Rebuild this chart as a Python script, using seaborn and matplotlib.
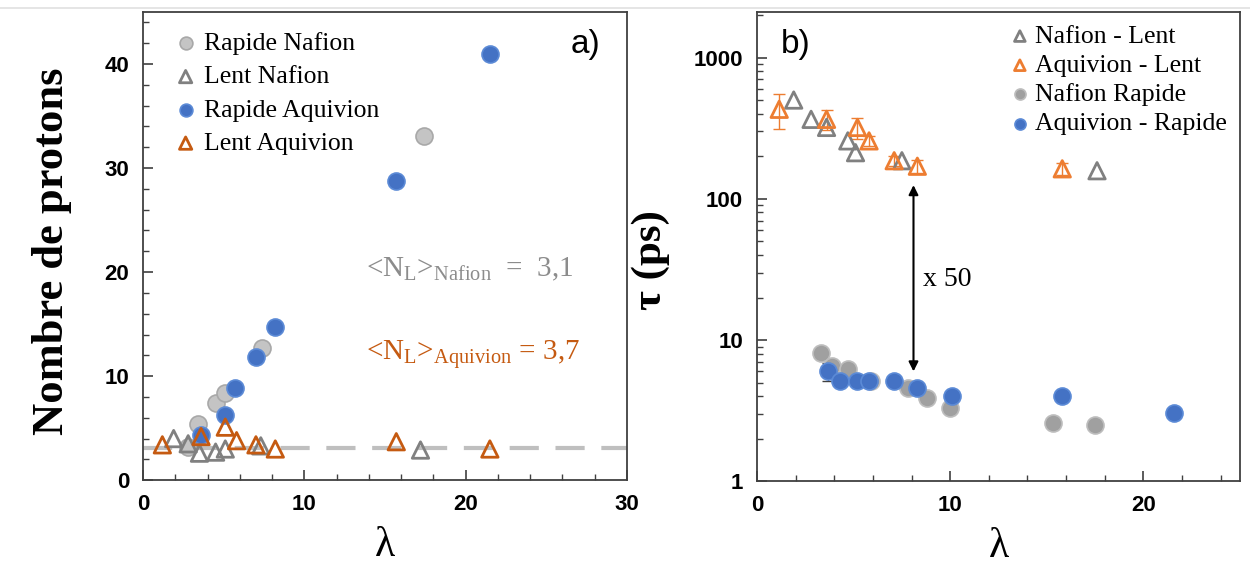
import matplotlib
matplotlib.use('Agg')
import matplotlib.pyplot as plt
from matplotlib.ticker import MultipleLocator, LogLocator, NullFormatter, FixedLocator
from matplotlib.lines import Line2D
from matplotlib.font_manager import FontProperties
import seaborn as sns
import numpy as np

sns.set_theme(style='ticks')
plt.rcParams['font.family'] = ['Liberation Serif', 'DejaVu Serif']
plt.rcParams['mathtext.fontset'] = 'custom'
plt.rcParams['mathtext.rm'] = 'Liberation Serif'
plt.rcParams['text.color'] = 'black'
plt.rcParams['axes.labelcolor'] = 'black'

# --- a) nombre de protons vs lambda ---
lam_rap_naf = [2.8, 3.4, 4.5, 5.1, 7.4, 17.4]
n_rap_naf = [3.2, 5.4, 7.4, 8.4, 12.7, 33.1]

lam_lent_naf = [1.9, 2.8, 3.5, 4.5, 5.1, 7.3, 17.2]
n_lent_naf = [4.0, 3.5, 2.6, 2.7, 3.0, 3.3, 2.9]

lam_rap_aq = [3.6, 5.1, 5.7, 7.0, 8.2, 15.7, 21.5]
n_rap_aq = [4.3, 6.3, 8.9, 11.8, 14.7, 28.8, 41.0]

lam_lent_aq = [1.2, 3.6, 5.1, 5.8, 7.0, 8.2, 15.7, 21.5]
n_lent_aq = [3.4, 4.2, 5.1, 3.8, 3.4, 3.0, 3.7, 3.0]

nl_moyen = 3.1

# --- b) tau vs lambda ---
lam_naf_lent = [1.9, 2.8, 3.6, 4.7, 5.1, 7.5, 17.6]
tau_naf_lent = [500, 365, 320, 257, 212, 186, 158]

lam_aq_lent = [1.15, 3.6, 5.2, 5.8, 7.1, 8.3, 15.8]
tau_aq_lent = [430, 365, 320, 257, 186, 170, 163]
err_aq_lent = [120, 60, 55, 20, 15, 18, 15]

lam_naf_rap = [3.3, 3.9, 4.7, 5.9, 7.8, 8.8, 10.0, 15.3, 17.5]
tau_naf_rap = [8.1, 6.6, 6.2, 5.1, 4.6, 3.9, 3.3, 2.6, 2.5]

lam_aq_rap = [3.7, 4.3, 5.2, 5.8, 7.1, 8.3, 10.1, 15.8, 21.6]
tau_aq_rap = [6.0, 5.1, 5.1, 5.1, 5.1, 4.6, 4.0, 4.0, 3.05]
err_aq_rap = [0.9, 0, 0, 0, 0, 0, 0, 0, 0]

gris_clair = '#c4c4c4'
gris = '#808080'
bleu = '#4472c4'
orange_a = '#c55a11'
orange_b = '#ed7d31'

tick_font = FontProperties(family='Liberation Sans', weight='bold', size=16)

fig = plt.figure(figsize=(12.5, 5.71), dpi=100)
ax1 = fig.add_axes([0.1144, 0.159, 0.3872, 0.820])
ax2 = fig.add_axes([0.6056, 0.157, 0.3864, 0.822])

# ligne grise en haut de la figure
fig.add_artist(Line2D([0, 1], [0.986, 0.986], color='#e0e0e0', lw=1.2))

# ---------- a) ----------
ax1.axhline(nl_moyen, color='#bfbfbf', lw=3, dashes=(7, 4), zorder=1)
sns.scatterplot(x=lam_rap_naf, y=n_rap_naf, ax=ax1, marker='o', s=150,
                color=gris_clair, edgecolor='#a8a8a8', linewidth=1.2,
                label='Rapide Nafion', zorder=3)
sns.scatterplot(x=lam_lent_naf, y=n_lent_naf, ax=ax1, marker='^', s=140,
                facecolors='none', edgecolor=gris, linewidth=2,
                label='Lent Nafion', zorder=4)
sns.scatterplot(x=lam_rap_aq, y=n_rap_aq, ax=ax1, marker='o', s=150,
                color=bleu, edgecolor='#5b8ad6', linewidth=1.2,
                label='Rapide Aquivion', zorder=3)
sns.scatterplot(x=lam_lent_aq, y=n_lent_aq, ax=ax1, marker='^', s=140,
                facecolors='none', edgecolor=orange_a, linewidth=2,
                label='Lent Aquivion', zorder=5)

ax1.set_xlim(0, 30)
ax1.set_ylim(0, 45)
ax1.xaxis.set_major_locator(MultipleLocator(10))
ax1.xaxis.set_minor_locator(MultipleLocator(2))
ax1.yaxis.set_major_locator(MultipleLocator(10))
ax1.yaxis.set_minor_locator(MultipleLocator(2))
ax1.set_xlabel('λ', fontsize=30, labelpad=8)
ax1.set_ylabel('Nombre de protons', fontsize=32, weight='bold')
ax1.yaxis.set_label_coords(-0.147, 0.488)

ax1.text(13.8, 20.3, r'<N$_\mathrm{L}$>$_\mathrm{Nafion}$  =  3,1', color='#8c8c8c',
         fontsize=21, va='center')
ax1.text(13.8, 12.0, r'<N$_\mathrm{L}$>$_\mathrm{Aquivion}$ = 3,7', color=orange_a,
         fontsize=21, va='center')
ax1.text(0.915, 0.93, 'a)', transform=ax1.transAxes, fontsize=24,
         family='Liberation Sans', ha='center', va='center')

ax1.legend(loc='upper left', bbox_to_anchor=(0.035, 0.99), frameon=False,
           fontsize=18.5, handlelength=0.8, handletextpad=0.3, labelspacing=0.40,
           markerscale=0.75, borderaxespad=0.2)

# ---------- b) ----------
ax2.errorbar(lam_aq_lent, tau_aq_lent, yerr=err_aq_lent, fmt='none',
             ecolor=orange_b, elinewidth=1, capsize=4, zorder=2)
ax2.errorbar(lam_aq_rap, tau_aq_rap, yerr=err_aq_rap, fmt='none',
             ecolor='#404040', elinewidth=1, capsize=4, zorder=2)
sns.scatterplot(x=lam_naf_lent, y=tau_naf_lent, ax=ax2, marker='^', s=140,
                facecolors='none', edgecolor=gris, linewidth=2,
                label='Nafion - Lent', zorder=3)
sns.scatterplot(x=lam_aq_lent, y=tau_aq_lent, ax=ax2, marker='^', s=140,
                facecolors='none', edgecolor=orange_b, linewidth=2,
                label='Aquivion - Lent', zorder=4)
sns.scatterplot(x=lam_naf_rap, y=tau_naf_rap, ax=ax2, marker='o', s=150,
                color='#a0a0a0', edgecolor='#bdbdbd', linewidth=1.2,
                label='Nafion Rapide', zorder=3)
sns.scatterplot(x=lam_aq_rap, y=tau_aq_rap, ax=ax2, marker='o', s=150,
                color=bleu, edgecolor='#5b8ad6', linewidth=1.2,
                label='Aquivion - Rapide', zorder=4)

ax2.set_yscale('log')
ax2.set_xlim(0, 25)
ax2.set_ylim(1, 2100)
ax2.xaxis.set_major_locator(MultipleLocator(10))
ax2.xaxis.set_minor_locator(MultipleLocator(2))
ax2.yaxis.set_major_locator(FixedLocator([1, 10, 100, 1000]))
ax2.yaxis.set_minor_locator(LogLocator(base=10, subs=np.arange(2, 10)))
ax2.yaxis.set_minor_formatter(NullFormatter())
ax2.set_yticklabels(['1', '10', '100', '1000'])
ax2.set_xlabel('λ', fontsize=30, labelpad=8)
ax2.set_ylabel('τ (ps)', fontsize=31, weight='bold')
ax2.yaxis.set_label_coords(-0.18, 0.471)

ax2.annotate('', xy=(8.1, 6.0), xytext=(8.1, 125),
             arrowprops=dict(arrowstyle='<|-|>', color='black', lw=1.5,
                             mutation_scale=14, shrinkA=0, shrinkB=0))
ax2.text(8.6, 27, 'x 50', fontsize=20, va='center')
ax2.text(0.08, 0.93, 'b)', transform=ax2.transAxes, fontsize=24,
         family='Liberation Sans', ha='center', va='center')

ax2.legend(loc='upper right', bbox_to_anchor=(1.0, 1.0), frameon=False,
           fontsize=18.5, handlelength=0.7, handletextpad=0.25, labelspacing=0.24,
           markerscale=0.65, borderaxespad=0.1)

for ax in (ax1, ax2):
    for sp in ax.spines.values():
        sp.set_color('#404040')
        sp.set_linewidth(1.3)
    ax.tick_params(which='both', direction='in', color='#404040',
                   labelcolor='black', top=False, right=False)
    ax.tick_params(which='major', length=7, width=1.2, pad=10)
    ax.tick_params(which='minor', length=4, width=1)
    for lbl in ax.get_xticklabels() + ax.get_yticklabels():
        lbl.set_fontproperties(tick_font)

fig.savefig('out.png', dpi=100)
